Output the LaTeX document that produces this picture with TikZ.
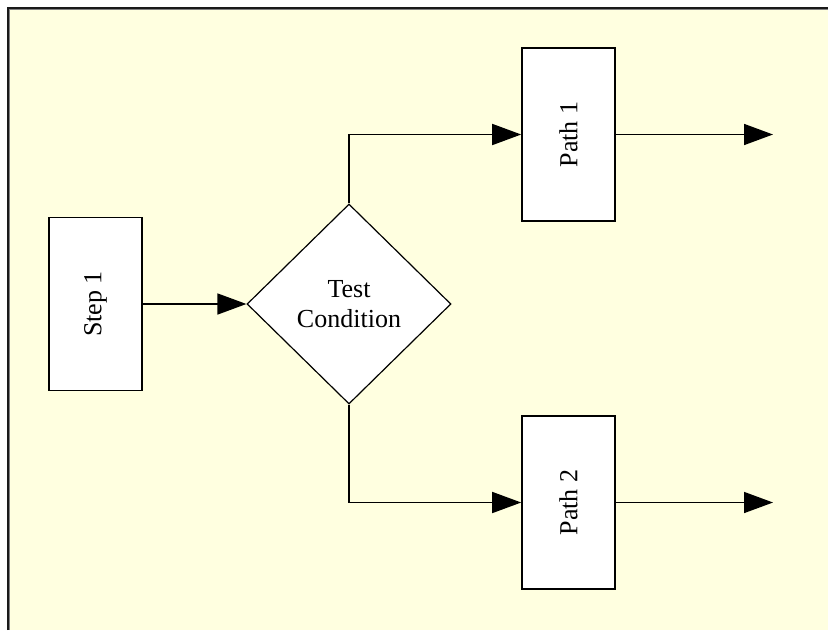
\documentclass[tikz,border=0pt]{standalone}
\usepackage{fontspec}
\setmainfont{Liberation Serif}
\usetikzlibrary{arrows.meta,shapes.geometric}
\definecolor{bgyellow}{HTML}{FFFFE0}
\begin{document}
\begin{tikzpicture}[x=1pt,y=-1pt,
  box/.style={draw=black,line width=1.6pt,fill=white,minimum width=93pt,minimum height=173pt,inner sep=0pt},
  decision/.style={draw=black,line width=1.2pt,fill=white,shape=diamond,minimum width=204pt,minimum height=200pt,inner sep=0pt,align=center,font=\fontsize{26}{30}\selectfont},
  lbl/.style={rotate=90,font=\fontsize{26}{30}\selectfont},
  flow/.style={draw=black,line width=1.6pt,-{Triangle[length=29pt,width=21pt]}}]
\useasboundingbox (0,0) rectangle (828,630);
\fill[white] (0,0) rectangle (828,630);
\fill[bgyellow] (8,8) rectangle (828,630);
\draw[black!90,line width=2pt] (8,630) -- (8,8) -- (828,8);
\draw[gray,line width=1pt] (9.8,630) -- (9.8,9.8) -- (828,9.8);
\node[box,label={[lbl]center:Step 1}] (s1) at (95.5,304) {};
\node[decision] (d) at (349,304) {Test\\Condition};
\node[box,label={[lbl]center:Path 1}] (p1) at (568.5,134.5) {};
\node[box,label={[lbl]center:Path 2}] (p2) at (568.5,502.5) {};
\coordinate (e1) at (773,134.5);
\coordinate (e2) at (773,502.5);
\draw[flow] (s1.east) -- (d.west);
\draw[flow] (d.north) |- (p1.west);
\draw[flow] (d.south) |- (p2.west);
\draw[flow] (p1.east) -- (e1);
\draw[flow] (p2.east) -- (e2);
\end{tikzpicture}
\end{document}
